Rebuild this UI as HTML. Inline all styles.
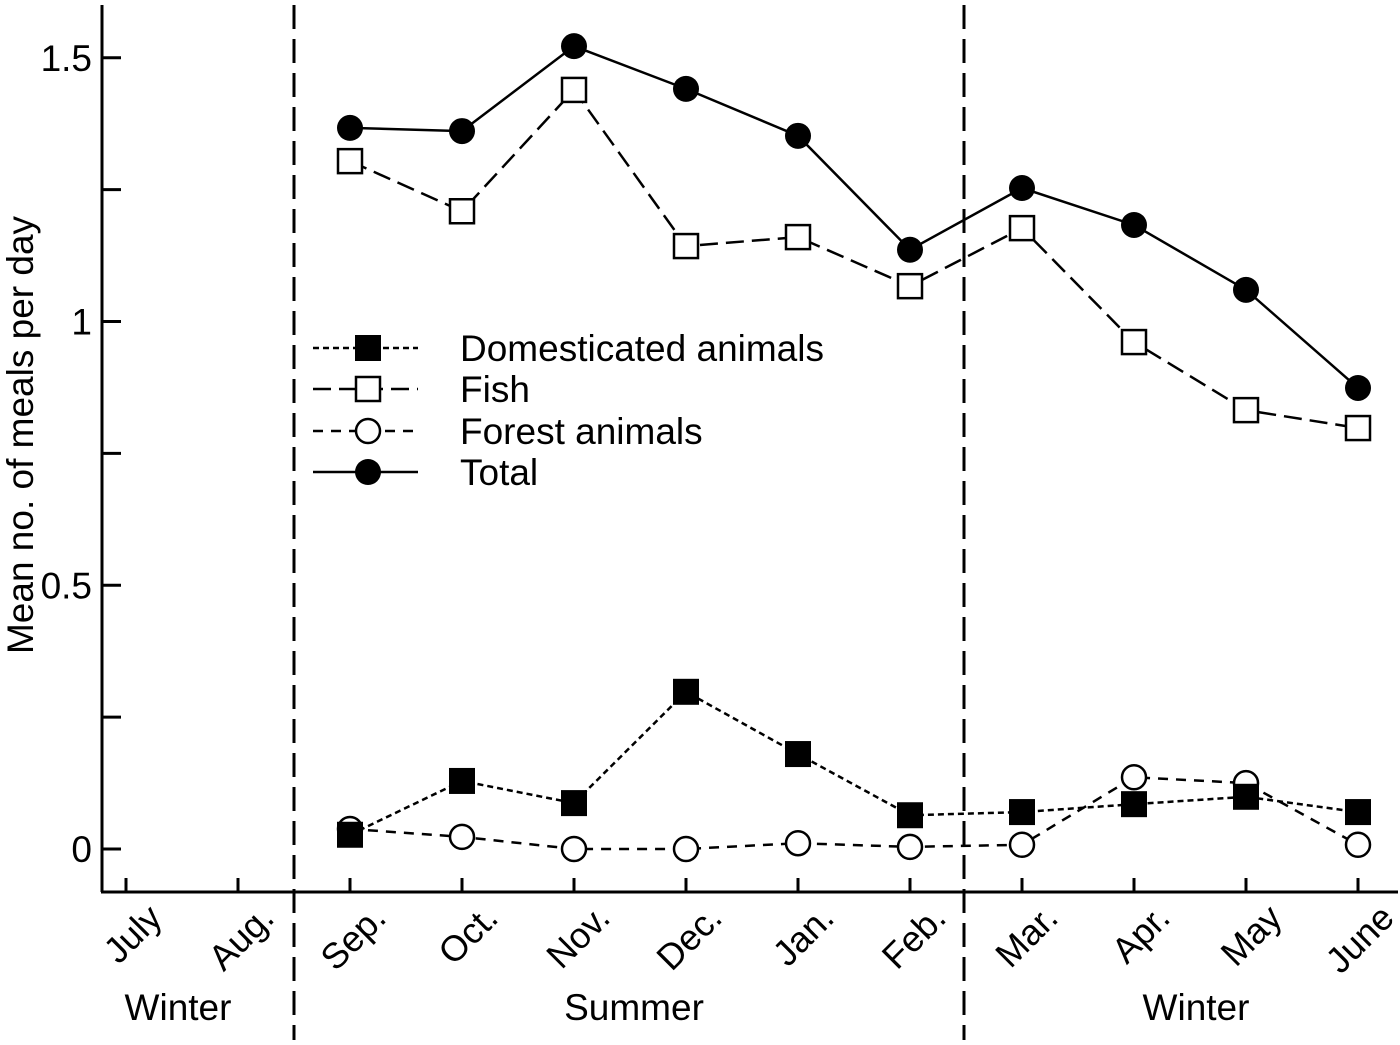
<!DOCTYPE html>
<html><head><meta charset="utf-8"><style>
html,body{margin:0;padding:0;background:#fff;}
svg{display:block;font-family:"Liberation Sans",Arial,sans-serif;}
</style></head><body>
<svg id="chart" width="1400" height="1045" viewBox="0 0 1400 1045" xmlns="http://www.w3.org/2000/svg"></svg>
<script>
const months = ["July","Aug.","Sep.","Oct.","Nov.","Dec.","Jan.","Feb.","Mar.","Apr.","May","June"];
const yTicks = [0,0.25,0.5,0.75,1,1.25,1.5];
const yTickLabels = ["0","","0.5","","1","","1.5"];
const totalVals = [null,null,1.367,1.361,1.522,1.441,1.352,1.136,1.253,1.183,1.060,0.874];
const fishVals = [null,null,1.304,1.209,1.439,1.143,1.160,1.067,1.177,0.961,0.832,0.798];
const domVals = [null,null,0.027,0.129,0.087,0.298,0.180,0.064,0.070,0.085,0.099,0.070];
const forestVals = [null,null,0.038,0.023,0.0,0.0,0.011,0.004,0.008,0.136,0.125,0.008];
const seasons = ["Winter","Summer","Winter"];

const NS="http://www.w3.org/2000/svg";
const svg=document.getElementById('chart');
function xS(i){return 126+i*112;}
function yS(v){return 849-v*527.5;}
function mk(tag,attrs,parent){const e=document.createElementNS(NS,tag);for(const k in attrs)e.setAttribute(k,attrs[k]);(parent||svg).appendChild(e);return e;}

let e=mk('line',{x1:102,y1:5,x2:102,y2:892,stroke:'#000','stroke-width':3});


e=mk('line',{x1:101,y1:892,x2:1398,y2:892,stroke:'#000','stroke-width':3});


yTicks.forEach((t,i)=>{
  const y=yS(t);
  const tk=mk('line',{x1:102,y1:y,x2:121,y2:y,stroke:'#000','stroke-width':3});
  
  
  if(yTickLabels[i]){
    const tx=mk('text',{x:92,y:y+13,'text-anchor':'end','font-size':37});
    tx.textContent=yTickLabels[i];
    
    
  }
});
months.forEach((m,i)=>{
  const x=xS(i);
  const tk=mk('line',{x1:x,y1:878,x2:x,y2:892,stroke:'#000','stroke-width':3});
  
  
  const tx=mk('text',{x:x+38,y:920,'text-anchor':'end','font-size':36,transform:`rotate(-45 ${x+38} 920)`});
  tx.textContent=m;
  
  
});
[294,964].forEach(x=>{
  const l=mk('line',{x1:x,y1:5,x2:x,y2:1040,stroke:'#000','stroke-width':3,'stroke-dasharray':'24,10'});
  
  
});
const seasonX=[178,634,1196];
seasons.forEach((s,i)=>{
  const t=mk('text',{x:seasonX[i],y:1020,'text-anchor':'middle','font-size':37});
  t.textContent=s;
  
  
});
const yl=mk('text',{x:0,y:0,'text-anchor':'middle','font-size':37,transform:'translate(33 435) rotate(-90)'});
yl.textContent='Mean no. of meals per day';



function marker(type,x,y,g){
  if(type==='fsq') return mk('rect',{x:x-13,y:y-13,width:26,height:26,fill:'#000'},g);
  if(type==='osq') return mk('rect',{x:x-12,y:y-12,width:24,height:24,fill:'#fff',stroke:'#000','stroke-width':2.5},g);
  if(type==='fci') return mk('circle',{cx:x,cy:y,r:13,fill:'#000'},g);
  return mk('circle',{cx:x,cy:y,r:12,fill:'#fff',stroke:'#000','stroke-width':2.5},g);
}
function series(vals,name,dash,type){
  const g=mk('g',{});
  
  
  const pts=[];vals.forEach((v,i)=>{if(v!==null)pts.push([xS(i),yS(v)]);});
  mk('polyline',{points:pts.map(p=>p.join(',')).join(' '),fill:'none',stroke:'#000','stroke-width':2.5,'stroke-dasharray':dash},g);
  pts.forEach(pt=>{
    const m=marker(type,pt[0],pt[1],g);
    
    
  });
}
series(forestVals,'forest-series','10,8','oci');
series(domVals,'domesticated-series','6,4','fsq');
series(fishVals,'fish-series','18,8','osq');
series(totalVals,'total-series','none','fci');

const leg=[["Domesticated animals",'6,4','fsq'],["Fish",'18,8','osq'],["Forest animals",'10,8','oci'],["Total",'none','fci']];
const lg=mk('g',{});


const legY=[348,389,431,472];
leg.forEach((l,i)=>{
  const y=legY[i];
  mk('line',{x1:313,y1:y,x2:418,y2:y,stroke:'#000','stroke-width':2.5,'stroke-dasharray':l[1]},lg);
  marker(l[2],368,y,lg);
  const t=mk('text',{x:460,y:y+13,'font-size':37},lg);
  t.textContent=l[0];
  
  
});
</script>
</body></html>
